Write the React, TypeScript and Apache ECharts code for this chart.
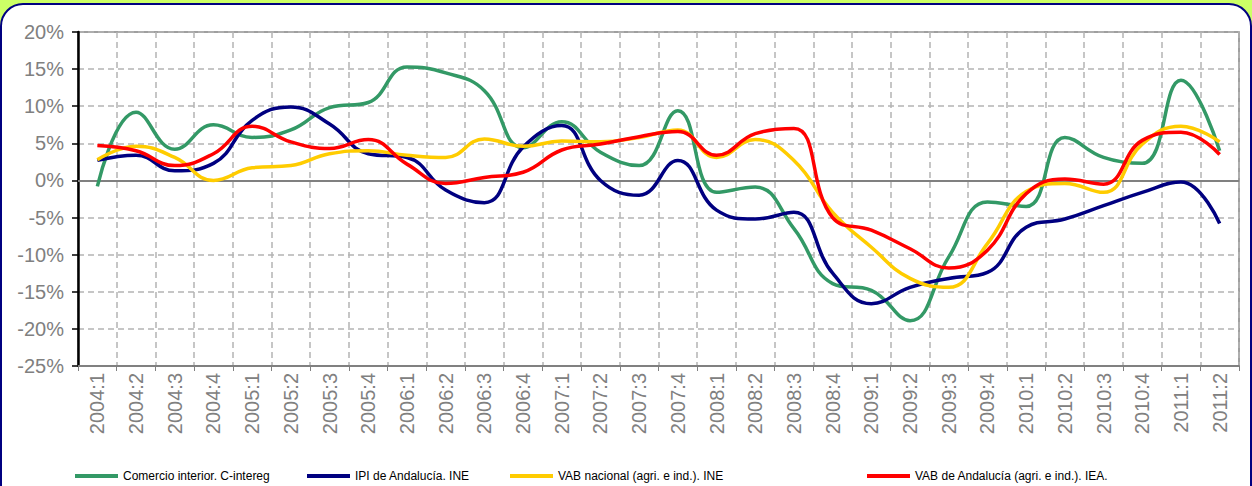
import React, { useEffect, useRef } from "react";
import * as echarts from "echarts";

const categories = [
  "2004:1", "2004:2", "2004:3", "2004:4",
  "2005:1", "2005:2", "2005:3", "2005:4",
  "2006:1", "2006:2", "2006:3", "2006:4",
  "2007:1", "2007:2", "2007:3", "2007:4",
  "2008:1", "2008:2", "2008:3", "2008:4",
  "2009:1", "2009:2", "2009:3", "2009:4",
  "2010:1", "2010:2", "2010:3", "2010:4",
  "2011:1", "2011:2",
];

const seriesNames = [
  "Comercio interior. C-intereg",
  "IPI de Andalucía. INE",
  "VAB nacional (agri. e ind.). INE",
  "VAB de Andalucía (agri. e ind.). IEA.",
];

const comercio = [
  -0.8, 9.2, 4.2, 7.5, 5.8, 6.8, 9.8, 10.5, 15.3, 14.5,
  12.1, 4.4, 7.9, 3.8, 2.0, 9.4, -1.6, -0.9, -6.5, -13.9,
  -14.8, -18.9, -10.3, -2.9, -3.5, 5.8, 3.1, 2.3, 13.5, 4.0,
];
const ipi = [
  2.7, 3.4, 1.3, 2.3, 8.1, 9.9, 7.6, 3.6, 3.1, -1.3,
  -3.0, 4.5, 7.4, 0.0, -2.0, 2.7, -4.0, -5.2, -4.3, -12.5,
  -16.6, -14.4, -13.2, -12.4, -6.3, -5.2, -3.4, -1.6, -0.2, -5.8,
];
const vabNacional = [
  2.8, 4.6, 3.1, 0.0, 1.7, 2.0, 3.6, 4.0, 3.4, 3.1,
  5.6, 4.6, 5.3, 5.2, 5.8, 6.8, 3.1, 5.5, 2.7, -4.3,
  -9.0, -13.2, -14.4, -8.5, -1.5, -0.4, -1.6, 4.9, 7.3, 5.2,
];
const vabAndalucia = [
  4.7, 4.0, 2.0, 3.6, 7.3, 5.2, 4.3, 5.5, 2.2, -0.4,
  0.4, 1.1, 4.1, 4.9, 5.9, 6.6, 3.4, 6.3, 7.0, -5.0,
  -6.7, -9.2, -11.8, -9.4, -1.8, 0.2, -0.5, 5.4, 6.5, 3.5,
];

const seriesValues = [comercio, ipi, vabNacional, vabAndalucia];
const seriesColors = ["#339966", "#000080", "#FFCC00", "#FF0000"];
const legendLefts = [75, 307, 510, 867];

export default function App() {
  const ref = useRef<HTMLDivElement>(null);
  useEffect(() => {
    if (!ref.current) return;
    const chart = echarts.init(ref.current, null, { renderer: "svg" });
    const font = "Arial, 'Liberation Sans', sans-serif";
    chart.setOption({
      animation: false,
      backgroundColor: "#CCFF66",
      graphic: [
        {
          type: "rect",
          z: -10,
          silent: true,
          shape: { x: 1, y: 4, width: 1250, height: 540, r: 22 },
          style: { fill: "#FFFFFF", stroke: "#000080", lineWidth: 2 },
        },
      ],
      grid: {
        left: 78,
        right: 13,
        top: 32,
        bottom: 120,
        show: true,
        borderColor: "#808080",
        borderWidth: 1.5,
        backgroundColor: "transparent",
      },
      legend: seriesNames.map((n, i) => ({
        data: [n],
        left: legendLefts[i],
        top: 470,
        padding: 0,
        icon: "rect",
        itemWidth: 43,
        itemHeight: 4,
        itemGap: 0,
        selectedMode: false,
        textStyle: { fontFamily: font, fontSize: 12, color: "#000000" },
      })),
      xAxis: {
        type: "category",
        data: categories,
        boundaryGap: true,
        axisLine: { onZero: false, lineStyle: { color: "#808080", width: 2 } },
        axisTick: { show: true, length: 5, lineStyle: { color: "#808080" } },
        axisLabel: {
          rotate: 90,
          interval: 0,
          margin: 7,
          color: "#808080",
          fontSize: 20,
          fontFamily: font,
        },
        splitLine: {
          show: true,
          lineStyle: { color: "#B4B4B4", type: [6, 4], width: 1.5 },
        },
      },
      yAxis: {
        type: "value",
        min: -25,
        max: 20,
        interval: 5,
        axisLine: { show: true, lineStyle: { color: "#000000", width: 2.5 } },
        axisTick: { show: true, inside: false, length: 6, lineStyle: { color: "#000000", width: 1.5 } },
        axisLabel: {
          formatter: "{value}%",
          color: "#808080",
          fontSize: 20,
          fontFamily: font,
          margin: 14,
        },
        splitLine: {
          show: true,
          lineStyle: { color: "#B4B4B4", type: [6, 4], width: 1.5 },
        },
      },
      series: seriesNames.map((n, i) => ({
        name: n,
        type: "line",
        data: seriesValues[i],
        smooth: 0.45,
        symbol: "none",
        lineStyle: { color: seriesColors[i], width: 3.5 },
        itemStyle: { color: seriesColors[i] },
        z: 3 + i,
        markLine:
          i === 0
            ? {
                silent: true,
                symbol: "none",
                label: { show: false },
                lineStyle: { color: "#808080", width: 2, type: "solid" },
                data: [{ yAxis: 0 }],
                z: 1,
              }
            : undefined,
      })),
    });
    return () => chart.dispose();
  }, []);
  return (
    <div
      ref={ref}
      style={{ position: "fixed", left: 0, top: 0, width: 1252, height: 486 }}
    />
  );
}
